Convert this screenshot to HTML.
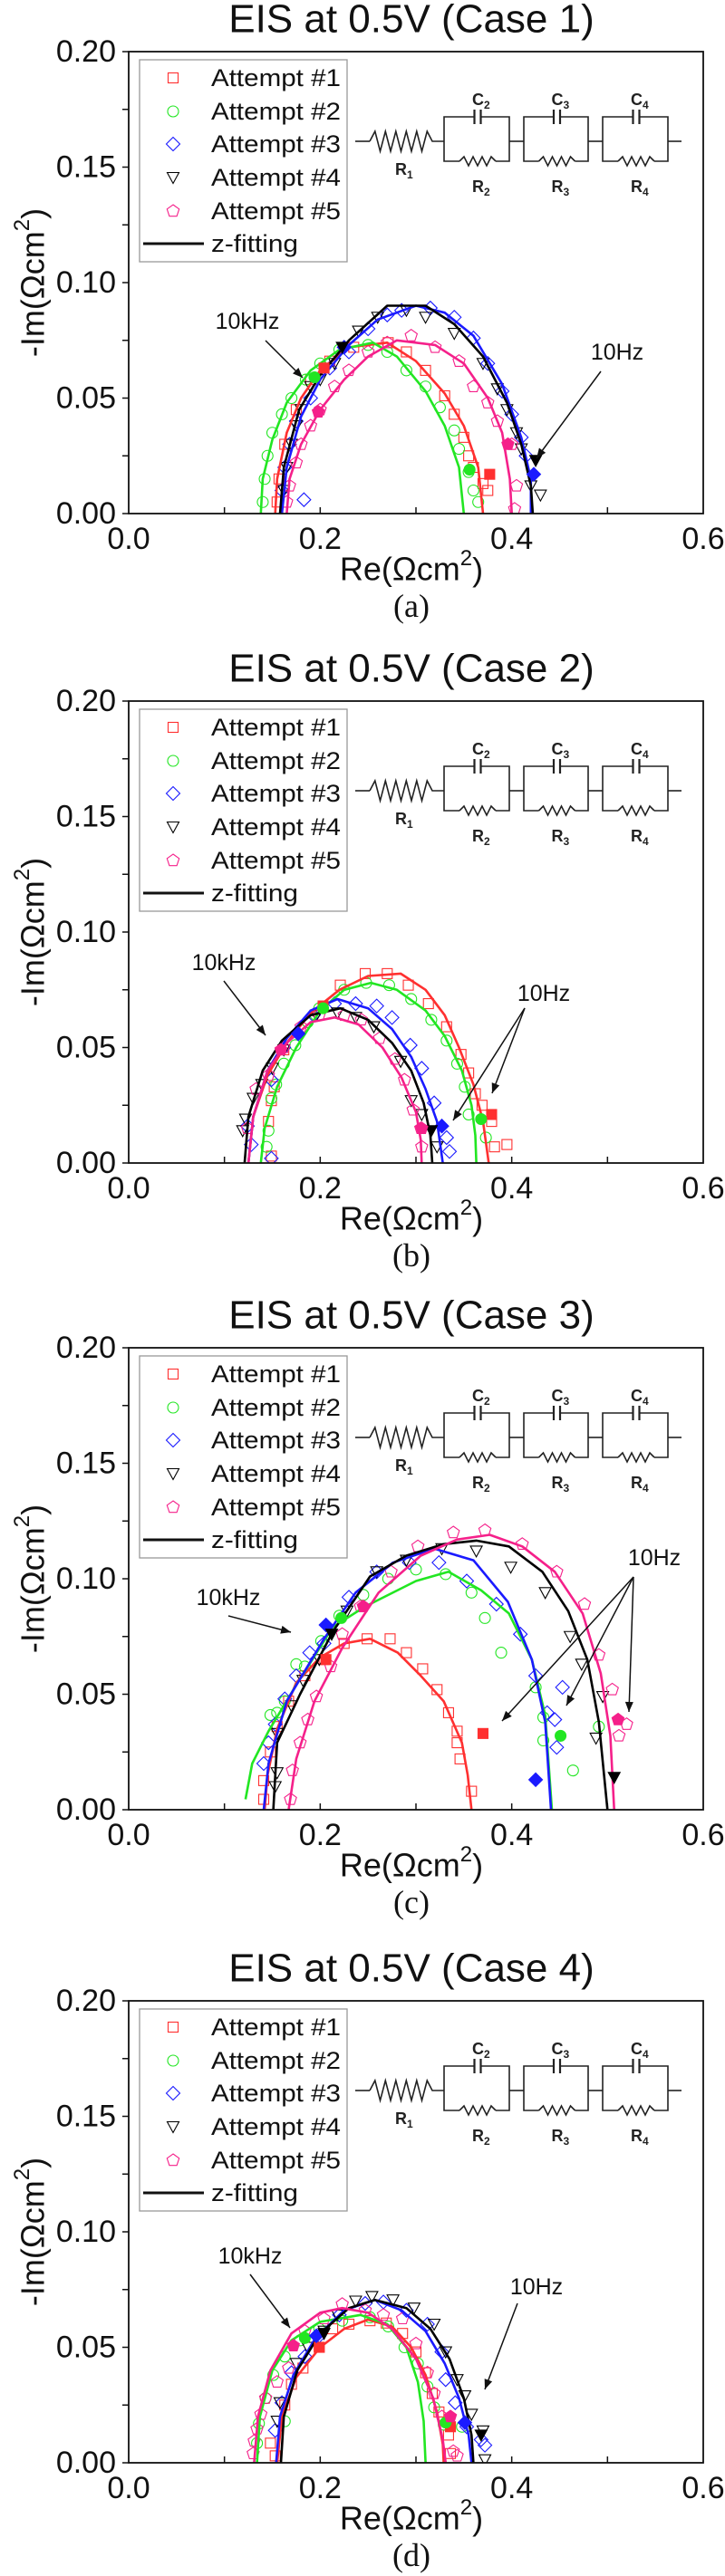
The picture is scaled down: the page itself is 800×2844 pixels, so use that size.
<!DOCTYPE html>
<html><head><meta charset="utf-8"><style>
html,body{margin:0;padding:0;background:#fff}
svg{display:block;font-family:"Liberation Sans",Arial,sans-serif}
</style></head><body>
<svg id="fig" width="800" height="2844" viewBox="0 0 800 2844" xmlns="http://www.w3.org/2000/svg"></svg>
<script>
// ===== Data (Re, -Im) in Ωcm² =====
// Case 1
const case1_att1=[[.155,.005],[.157,.015],[.163,.03],[.175,.045],[.19,.058],[.21,.066],[.235,.072],[.271,.074],[.29,.07],[.31,.062],[.33,.051],[.34,.043],[.35,.033],[.355,.025],[.36,.02],[.37,.013],[.375,.01]];
const case1_att2=[[.14,.005],[.142,.015],[.145,.025],[.15,.035],[.16,.043],[.17,.05],[.185,.058],[.2,.065],[.22,.071],[.25,.073],[.27,.07],[.29,.062],[.31,.055],[.325,.046],[.34,.036],[.345,.028],[.355,.018],[.36,.01],[.365,.005]];
const case1_att3=[[.16,.01],[.163,.02],[.168,.03],[.175,.04],[.19,.05],[.21,.063],[.23,.07],[.25,.08],[.27,.086],[.285,.088],[.315,.089],[.34,.085],[.36,.076],[.375,.065],[.39,.053],[.4,.043],[.41,.033],[.415,.025],[.183,.006]];
const case1_att4=[[.162,.01],[.165,.02],[.17,.03],[.175,.038],[.18,.045],[.19,.055],[.2,.058],[.215,.065],[.24,.079],[.26,.085],[.29,.088],[.31,.085],[.34,.078],[.37,.065],[.385,.054],[.395,.045],[.405,.035],[.41,.028],[.42,.012],[.43,.008]];
const case1_att5=[[.165,.005],[.168,.012],[.175,.022],[.18,.03],[.19,.038],[.2,.045],[.215,.055],[.23,.062],[.25,.07],[.27,.074],[.295,.077],[.32,.072],[.345,.066],[.36,.055],[.375,.048],[.385,.04],[.4,.03],[.405,.012],[.403,.002]];
const case1_fit1=[[.153,0],[.155,.015],[.165,.035],[.18,.05],[.2,.062],[.23,.072],[.27,.074],[.3,.066],[.33,.052],[.35,.038],[.365,.02],[.37,0]];
const case1_fit2=[[.138,0],[.14,.015],[.15,.032],[.165,.048],[.19,.062],[.22,.071],[.255,.074],[.28,.068],[.31,.053],[.33,.038],[.345,.02],[.35,0]];
const case1_fit3=[[.16,0],[.165,.02],[.18,.042],[.2,.058],[.23,.073],[.26,.084],[.3,.09],[.33,.087],[.36,.077],[.39,.056],[.41,.033],[.42,.015],[.42,0]];
const case1_fit4=[[.158,0],[.162,.02],[.178,.045],[.2,.06],[.23,.075],[.27,.09],[.31,.09],[.34,.082],[.37,.068],[.395,.048],[.41,.03],[.42,.012],[.422,0]];
const case1_fit5=[[.165,0],[.168,.015],[.18,.03],[.2,.045],[.225,.058],[.25,.068],[.28,.075],[.32,.073],[.35,.065],[.375,.05],[.39,.035],[.398,.015],[.4,0]];
const case1_solid=[[0,.204,.063],[0,.377,.017],[1,.194,.059],[1,.356,.019],[2,.225,.072],[2,.423,.017],[3,.223,.072],[3,.425,.023],[4,.198,.044],[4,.396,.030]];
// Case 2
const case2_att1=[[.149,.003],[.146,.018],[.149,.027],[.152,.033],[.162,.049],[.221,.077],[.247,.082],[.27,.082],[.292,.077],[.313,.069],[.332,.059],[.347,.047],[.355,.039],[.362,.030],[.369,.025],[.379,.018],[.382,.007],[.395,.008]];
const case2_att2=[[.144,.007],[.146,.014],[.149,.028],[.154,.034],[.162,.043],[.174,.051],[.187,.061],[.199,.067],[.225,.075],[.248,.078],[.272,.077],[.295,.071],[.316,.062],[.332,.053],[.343,.043],[.351,.033],[.355,.021],[.373,.011]];
const case2_att3=[[.124,.016],[.128,.008],[.149,.036],[.162,.05],[.177,.056],[.193,.064],[.215,.069],[.237,.069],[.259,.068],[.275,.063],[.294,.051],[.306,.041],[.319,.026],[.332,.011],[.335,.005],[.149,.002]];
const case2_att4=[[.119,.014],[.122,.019],[.13,.028],[.139,.034],[.15,.041],[.162,.049],[.196,.064],[.218,.065],[.237,.063],[.256,.059],[.284,.044],[.295,.027],[.306,.021],[.322,.007]];
const case2_att5=[[.124,.015],[.133,.032],[.146,.038],[.162,.05],[.18,.059],[.199,.064],[.225,.064],[.243,.062],[.262,.054],[.278,.045],[.288,.036],[.297,.023],[.305,.015],[.306,.007]];
const case2_fit1=[[.125,0],[.13,.02],[.145,.038],[.165,.052],[.19,.065],[.22,.075],[.25,.081],[.284,.082],[.31,.075],[.33,.064],[.345,.05],[.36,.034],[.37,.018],[.376,0]];
const case2_fit2=[[.138,0],[.142,.015],[.155,.033],[.175,.05],[.2,.066],[.225,.075],[.253,.078],[.28,.075],[.31,.066],[.33,.055],[.348,.04],[.358,.025],[.362,.012],[.363,0]];
const case2_fit3=[[.125,0],[.13,.02],[.145,.04],[.165,.054],[.19,.066],[.218,.071],[.25,.067],[.275,.058],[.295,.046],[.31,.032],[.322,.018],[.328,0]];
const case2_fit4=[[.121,0],[.125,.02],[.14,.04],[.16,.053],[.19,.064],[.221,.067],[.25,.062],[.275,.052],[.295,.04],[.308,.026],[.315,.012],[.317,0]];
const case2_fit5=[[.125,0],[.13,.02],[.145,.04],[.165,.052],[.19,.061],[.215,.063],[.24,.06],[.265,.05],[.285,.037],[.3,.022],[.305,.01],[.306,0]];
const case2_solid=[[0,.203,.068],[0,.379,.021],[1,.203,.067],[1,.368,.019],[2,.177,.056],[2,.327,.016],[3,.316,.014],[4,.159,.049],[4,.306,.015]];
// Case 3
const case3_att1=[[.141,.0045],[.141,.0126],[.148,.025],[.155,.036],[.167,.047],[.184,.058],[.204,.065],[.225,.072],[.249,.074],[.273,.074],[.29,.068],[.307,.061],[.322,.052],[.334,.042],[.343,.034],[.343,.029],[.346,.022],[.358,.008]];
const case3_att2=[[.148,.041],[.155,.042],[.163,.047],[.175,.063],[.184,.062],[.201,.073],[.22,.084],[.245,.093],[.271,.1],[.3,.104],[.331,.102],[.358,.094],[.372,.083],[.389,.068],[.425,.053],[.433,.04],[.433,.03],[.464,.017],[.491,.036]];
const case3_att3=[[.141,.02],[.146,.029],[.153,.037],[.163,.048],[.175,.058],[.189,.068],[.204,.072],[.23,.092],[.259,.103],[.293,.107],[.324,.107],[.353,.099],[.384,.089],[.409,.076],[.425,.058],[.437,.042],[.445,.039],[.447,.027],[.453,.053]];
const case3_att4=[[.153,.01],[.155,.016],[.155,.033],[.17,.045],[.182,.056],[.199,.065],[.228,.086],[.259,.103],[.29,.108],[.327,.113],[.363,.112],[.399,.105],[.435,.094],[.461,.075],[.473,.063],[.495,.049],[.488,.031]];
const case3_att5=[[.169,.0045],[.171,.017],[.179,.029],[.187,.039],[.196,.049],[.211,.062],[.223,.076],[.242,.088],[.274,.103],[.302,.114],[.339,.12],[.372,.121],[.411,.115],[.447,.103],[.476,.089],[.491,.067],[.505,.052],[.512,.032],[.52,.037]];
const case3_fit1=[[.142,0],[.145,.015],[.155,.035],[.175,.055],[.2,.066],[.225,.072],[.252,.074],[.281,.068],[.305,.058],[.329,.047],[.348,.029],[.354,.015],[.358,0]];
const case3_fit2=[[.122,.0045],[.129,.02],[.146,.034],[.175,.054],[.213,.079],[.247,.088],[.3,.099],[.334,.103],[.368,.095],[.397,.085],[.421,.065],[.435,.041],[.442,0]];
const case3_fit3=[[.141,0],[.146,.02],[.165,.047],[.204,.074],[.237,.094],[.276,.107],[.319,.113],[.36,.108],[.396,.09],[.421,.065],[.435,.038],[.441,0]];
const case3_fit4=[[.151,0],[.155,.029],[.179,.05],[.213,.077],[.252,.101],[.29,.11],[.329,.115],[.363,.1165],[.397,.114],[.432,.103],[.459,.086],[.479,.065],[.491,.038],[.5,0]];
const case3_fit5=[[.167,0],[.175,.022],[.194,.047],[.223,.07],[.261,.094],[.305,.11],[.343,.117],[.377,.119],[.411,.114],[.445,.103],[.474,.085],[.493,.059],[.503,.032],[.507,0]];
const case3_solid=[[0,.206,.065],[0,.37,.033],[1,.222,.083],[1,.451,.032],[2,.206,.08],[2,.425,.013],[3,.212,.076],[3,.507,.014],[4,.245,.088],[4,.511,.039]];
// Case 4
const case4_att1=[[.153,.003],[.148,.0085],[.163,.025],[.17,.034],[.182,.041],[.199,.05],[.213,.058],[.23,.06],[.252,.0615],[.269,.0605],[.286,.056],[.3,.048],[.31,.039],[.317,.03],[.324,.022],[.334,.012],[.336,.004]];
const case4_att2=[[.134,.0085],[.136,.017],[.143,.028],[.151,.038],[.163,.046],[.179,.053],[.199,.058],[.223,.0615],[.252,.063],[.271,.059],[.288,.05],[.302,.043],[.312,.033],[.319,.024],[.329,.0165],[.348,.0156],[.163,.018]];
const case4_att3=[[.153,.014],[.16,.026],[.17,.039],[.184,.046],[.199,.055],[.22,.064],[.247,.069],[.266,.0696],[.29,.066],[.312,.06],[.327,.048],[.331,.036],[.341,.026],[.353,.0156],[.368,.010],[.372,.0076]];
const case4_att4=[[.155,.018],[.158,.026],[.175,.043],[.187,.05],[.204,.057],[.218,.064],[.237,.07],[.254,.072],[.276,.0705],[.298,.067],[.319,.06],[.331,.048],[.343,.036],[.351,.029],[.358,.021],[.37,.0138],[.372,.0013]];
const case4_att5=[[.13,.004],[.131,.0094],[.134,.0147],[.138,.021],[.143,.028],[.155,.035],[.167,.041],[.184,.057],[.204,.0624],[.223,.0687],[.247,.066],[.266,.064],[.286,.0624],[.3,.0516],[.312,.039],[.319,.030],[.327,.020],[.339,.005],[.343,.003]];
const case4_fit1=[[.155,0],[.16,.02],[.175,.037],[.2,.05],[.225,.058],[.25,.062],[.275,.059],[.295,.05],[.31,.038],[.322,.022],[.328,.008],[.329,0]];
const case4_fit2=[[.134,0],[.137,.02],[.15,.04],[.17,.053],[.2,.061],[.242,.064],[.27,.06],[.29,.05],[.302,.035],[.308,.018],[.31,0]];
const case4_fit3=[[.154,0],[.158,.02],[.172,.038],[.195,.054],[.225,.066],[.257,.0705],[.285,.066],[.31,.057],[.33,.043],[.345,.028],[.355,.012],[.358,0]];
const case4_fit4=[[.159,0],[.162,.02],[.176,.04],[.2,.056],[.23,.067],[.257,.0705],[.29,.067],[.315,.058],[.335,.045],[.35,.028],[.358,.012],[.36,0]];
const case4_fit5=[[.131,0],[.135,.02],[.148,.04],[.17,.056],[.2,.065],[.223,.067],[.25,.065],[.275,.058],[.3,.045],[.318,.028],[.328,.01],[.331,0]];
const case4_solid=[[0,.199,.05],[0,.336,.0156],[1,.184,.054],[1,.331,.0174],[2,.196,.055],[2,.351,.0174],[3,.204,.056],[3,.368,.012],[4,.172,.0507],[4,.336,.020]];

const xTicks=[0,0.2,0.4,0.6];
const xTickLabels=["0.0","0.2","0.4","0.6"];
const yTicks=[0,0.05,0.10,0.15,0.20];
const yTickLabels=["0.00","0.05","0.10","0.15","0.20"];
const seriesNames=["Attempt #1","Attempt #2","Attempt #3","Attempt #4","Attempt #5"];
const caseTitles=["EIS at 0.5V (Case 1)","EIS at 0.5V (Case 2)","EIS at 0.5V (Case 3)","EIS at 0.5V (Case 4)"];
const captions=["(a)","(b)","(c)","(d)"];

const COLORS=["#ff3030","#22e622","#1a1aff","#000000","#f5208a"];
const SHAPES=["square","circle","diamond","tri","pent"];
const PANEL_TOPS=[57,774,1488,2209];
const PH=510, X0=142, XW=634;
const svg=document.getElementById('fig');
const NS="http://www.w3.org/2000/svg";
function el(tag,attrs,parent){const e=document.createElementNS(NS,tag);for(const k in attrs)e.setAttribute(k,attrs[k]);(parent||svg).appendChild(e);return e;}
function xs(v){return X0+v/0.6*XW;}
function ysF(top){return v=>top+PH-v/0.2*PH;}

function marker(g,shape,x,y,color,filled){
  const f=filled?color:"none", s=color;
  let m;
  if(shape==="square") m=el('rect',{x:x-5.5,y:y-5.5,width:11,height:11,fill:f,stroke:s,'stroke-width':1.1},g);
  else if(shape==="circle") m=el('circle',{cx:x,cy:y,r:6,fill:f,stroke:s,'stroke-width':1.1},g);
  else if(shape==="diamond") m=el('polygon',{points:`${x},${y-7.5} ${x+7.5},${y} ${x},${y+7.5} ${x-7.5},${y}`,fill:f,stroke:s,'stroke-width':1.1},g);
  else if(shape==="tri") m=el('polygon',{points:`${x-6.5},${y-5.5} ${x+6.5},${y-5.5} ${x},${y+6.5}`,fill:f,stroke:s,'stroke-width':1.1},g);
  else {let p=[];for(let i=0;i<5;i++){const a=-Math.PI/2+i*2*Math.PI/5;p.push((x+7*Math.cos(a)).toFixed(1)+","+(y+7*Math.sin(a)).toFixed(1));}
    m=el('polygon',{points:p.join(" "),fill:f,stroke:s,'stroke-width':1.1},g);}
  return m;
}

function drawCircuit(g,top){
  const st={stroke:'#222','stroke-width':1.6,fill:'none'};
  const my=top+99, ty=top+72, by=top+121;
  el('polyline',Object.assign({points:`392,${my} 408,${my}`},st),g);
  let zz=[`408,${my}`];const n=12;for(let i=1;i<n;i++){zz.push(`${(408+i*(69/n)).toFixed(1)},${i%2?my-11:my+11}`);}zz.push(`477,${my}`);zz.push(`490,${my}`);
  el('polyline',Object.assign({points:zz.join(" ")},st),g);
  const boxes=[[490,562],[578,649],[665,737]];
  boxes.forEach((b,i)=>{
    const cx=(b[0]+b[1])/2+1;
    el('polyline',Object.assign({points:`${cx-3.5},${ty} ${b[0]},${ty} ${b[0]},${by} ${cx-20},${by}`},st),g);
    el('polyline',Object.assign({points:`${cx+3.5},${ty} ${b[1]},${ty} ${b[1]},${by} ${cx+20},${by}`},st),g);
    el('line',Object.assign({x1:cx-3.5,y1:ty-8,x2:cx-3.5,y2:ty+8},st,{'stroke-width':2.2}),g);
    el('line',Object.assign({x1:cx+3.5,y1:ty-8,x2:cx+3.5,y2:ty+8},st,{'stroke-width':2.2}),g);
    let z=[`${cx-20},${by}`];for(let k=1;k<8;k++){z.push(`${(cx-20+k*5).toFixed(1)},${k%2?by-5:by+5}`);}z.push(`${cx+20},${by}`);
    el('polyline',Object.assign({points:z.join(" ")},st),g);
    const nx=i<2?boxes[i+1][0]:752;
    el('line',Object.assign({x1:b[1],y1:my,x2:nx,y2:my},st),g);
    const ct=el('text',{x:cx-6,y:top+59,'font-size':18,'font-weight':'bold',fill:'#222'},g);
    ct.innerHTML=`C<tspan font-size="12" dy="4">${i+2}</tspan>`;
    const rt=el('text',{x:cx-6,y:top+155,'font-size':18,'font-weight':'bold',fill:'#222'},g);
    rt.innerHTML=`R<tspan font-size="12" dy="4">${i+2}</tspan>`;
  });
  const r1=el('text',{x:436,y:top+136,'font-size':18,'font-weight':'bold',fill:'#222'},g);
  r1.innerHTML=`R<tspan font-size="12" dy="4">1</tspan>`;
}

function arrow(g,x1,y1,x2,y2){
  el('line',{x1,y1,x2,y2,stroke:'#111','stroke-width':1.5},g);
  const a=Math.atan2(y2-y1,x2-x1),L=11,W=4.5;
  const bx=x2-L*Math.cos(a),by=y2-L*Math.sin(a);
  el('polygon',{points:`${x2},${y2} ${bx+W*Math.sin(a)},${by-W*Math.cos(a)} ${bx-W*Math.sin(a)},${by+W*Math.cos(a)}`,fill:'#111'},g);
}

const ANNOT=[
 {k:[273,298,[[293,319,334,360]]],h:[681,332,[[663,353,592,449]]]},
 {k:[247,289,[[247,309,293,369]]],h:[600,323,[[579,339,500,463],[579,339,543,433]]]},
 {k:[252,276,[[252,296,321,314]]],h:[722,232,[[699,253,554,412],[699,253,625,395],[699,253,694,402]]]},
 {k:[276,282,[[276,302,320,361]]],h:[592,316,[[571,334,535,429]]]}
];

const DATA=[
 [case1_att1,case1_att2,case1_att3,case1_att4,case1_att5,case1_fit1,case1_fit2,case1_fit3,case1_fit4,case1_fit5,case1_solid],
 [case2_att1,case2_att2,case2_att3,case2_att4,case2_att5,case2_fit1,case2_fit2,case2_fit3,case2_fit4,case2_fit5,case2_solid],
 [case3_att1,case3_att2,case3_att3,case3_att4,case3_att5,case3_fit1,case3_fit2,case3_fit3,case3_fit4,case3_fit5,case3_solid],
 [case4_att1,case4_att2,case4_att3,case4_att4,case4_att5,case4_fit1,case4_fit2,case4_fit3,case4_fit4,case4_fit5,case4_solid]
];

DATA.forEach((D,p)=>{
  const top=PANEL_TOPS[p], ys=ysF(top), bot=top+PH;
  const g=el('g',{});
  
  
  const t=el('text',{x:454,y:top-36,'font-size':44,'text-anchor':'middle','dominant-baseline':'central',fill:'#111'},g);
  t.textContent=caseTitles[p];
  
  
  for(let v=0.1;v<0.6;v+=0.1){const x=xs(v);el('line',{x1:x,y1:bot,x2:x,y2:bot-7,stroke:'#111','stroke-width':1.5},g);}
  for(let i=0;i<=8;i++){const y=ys(i*0.025);el('line',{x1:X0,y1:y,x2:X0-7,y2:y,stroke:'#111','stroke-width':1.5},g);}
  xTicks.forEach((v,i)=>{
    const tl=el('text',{x:xs(v),y:top+538,'font-size':34,'text-anchor':'middle','dominant-baseline':'central',fill:'#111'},g);
    tl.textContent=xTickLabels[i];
    
    
  });
  yTicks.forEach((v,i)=>{
    const tl=el('text',{x:128,y:ys(v),'font-size':34,'text-anchor':'end','dominant-baseline':'central',fill:'#111'},g);
    tl.textContent=yTickLabels[i];
    
    
  });
  const xt=el('text',{x:454,y:top+571,'font-size':36,'text-anchor':'middle','dominant-baseline':'central',fill:'#111'},g);
  xt.innerHTML='Re(Ωcm<tspan font-size="24" dy="-12">2</tspan><tspan dy="12">)</tspan>';
  
  
  const yt=el('text',{x:0,y:0,'font-size':36,'text-anchor':'middle','dominant-baseline':'central',fill:'#111',transform:`translate(36,${top+255}) rotate(-90)`},g);
  yt.innerHTML='-Im(Ωcm<tspan font-size="24" dy="-12">2</tspan><tspan dy="12">)</tspan>';
  
  
  const cap=el('text',{x:454,y:top+612,'font-size':36,'text-anchor':'middle','dominant-baseline':'central',fill:'#111','font-family':'"Liberation Serif",serif'},g);
  cap.textContent=captions[p];
  
  

  const cid='clip'+p;
  const cp=el('clipPath',{id:cid},g);el('rect',{x:X0,y:top,width:XW,height:PH},cp);
  const pg=el('g',{'clip-path':`url(#${cid})`},g);
  for(let s=0;s<5;s++){
    const sg=el('g',{},pg);
    
    
    D[s].forEach(pt=>{const m=marker(sg,SHAPES[s],xs(pt[0]),ys(pt[1]),COLORS[s],false);
      
      });
  }
  for(let s=0;s<5;s++){
    const pl=el('polyline',{points:D[5+s].map(pt=>xs(pt[0]).toFixed(1)+","+ys(pt[1]).toFixed(1)).join(" "),fill:'none',stroke:COLORS[s],'stroke-width':2.6,'stroke-linejoin':'round'},pg);
    
    
  }
  D[10].forEach(pt=>{const m=marker(pg,SHAPES[pt[0]],xs(pt[1]),ys(pt[2]),COLORS[pt[0]],true);
    
    });
  const fr=el('rect',{x:X0,y:top,width:XW,height:PH,fill:'none',stroke:'#111','stroke-width':1.8},g);
  
  
  const lg=el('g',{},g);
  
  
  el('rect',{x:154,y:top+9,width:229,height:223,fill:'#fff',stroke:'#999','stroke-width':1.3},lg);
  const rows=[29,66,102,139,176];
  seriesNames.forEach((nm,s)=>{
    const ey=top+rows[s];
    const e=el('g',{},lg);
    
    
    marker(e,SHAPES[s],191,ey,COLORS[s],false);
    const tx=el('text',{x:233,y:ey,'font-size':27,'dominant-baseline':'central',fill:'#111',textLength:143,lengthAdjust:'spacingAndGlyphs'},e);
    tx.textContent=nm;
  });
  const fe=el('g',{},lg);
  
  
  el('line',{x1:158,y1:top+212,x2:225,y2:top+212,stroke:'#111','stroke-width':3},fe);
  const zt=el('text',{x:233,y:top+212,'font-size':27,'dominant-baseline':'central',fill:'#111',textLength:96,lengthAdjust:'spacingAndGlyphs'},fe);
  zt.textContent='z-fitting';
  const cg=el('g',{},g);
  
  
  drawCircuit(cg,top);
  const A=ANNOT[p];
  const kg=el('g',{},g);
  
  
  const kt=el('text',{x:A.k[0],y:top+A.k[1],'font-size':25,'text-anchor':'middle','dominant-baseline':'central',fill:'#111'},kg);
  kt.textContent='10kHz';
  A.k[2].forEach(a=>arrow(kg,a[0],top+a[1],a[2],top+a[3]));
  const hg=el('g',{},g);
  
  
  const ht=el('text',{x:A.h[0],y:top+A.h[1],'font-size':25,'text-anchor':'middle','dominant-baseline':'central',fill:'#111'},hg);
  ht.textContent='10Hz';
  A.h[2].forEach(a=>arrow(hg,a[0],top+a[1],a[2],top+a[3]));
});
</script>
</body></html>
